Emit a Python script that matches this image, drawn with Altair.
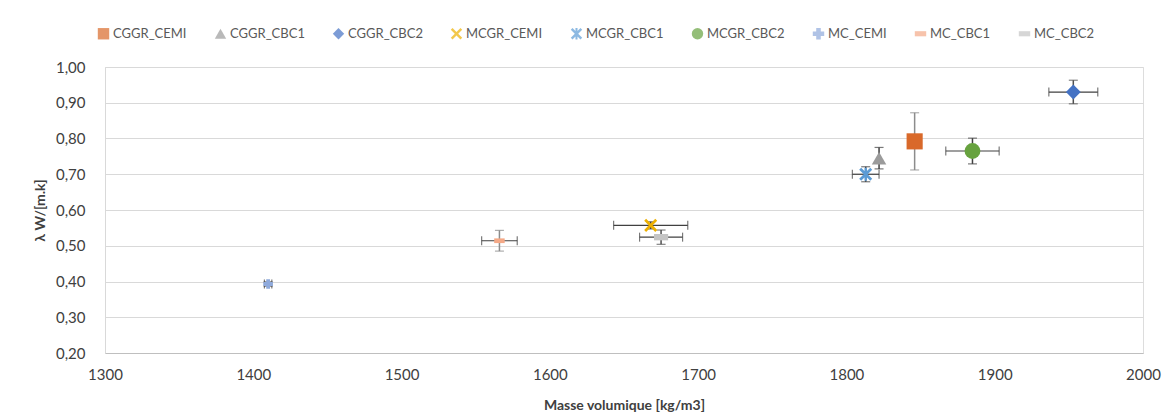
import altair as alt
import pandas as pd

series = ["CGGR_CEMI", "CGGR_CBC1", "CGGR_CBC2", "MCGR_CEMI", "MCGR_CBC1",
          "MCGR_CBC2", "MC_CEMI", "MC_CBC1", "MC_CBC2"]
density = [1846, 1822, 1953, 1668, 1813, 1885, 1410, 1566, 1675]
lam = [0.792, 0.745, 0.930, 0.557, 0.700, 0.765, 0.393, 0.514, 0.524]
density_err = [4.5, 0, 16.5, 25, 9, 18, 2.5, 12, 14.5]
lam_err = [0.080, 0.030, 0.033, 0.010, 0.021, 0.036, 0.006, 0.029, 0.020]
x_ticks = [1300, 1400, 1500, 1600, 1700, 1800, 1900, 2000]
y_ticks = [0.2, 0.3, 0.4, 0.5, 0.6, 0.7, 0.8, 0.9, 1.0]

colors = ["#D9692A", "#9B9B9B", "#4472C4", "#EDB000", "#5B9BD5",
          "#67A23F", "#8FAADC", "#F4A987", "#C4C4C4"]
X_PATH = ("M-1,-0.7L-0.7,-1L0,-0.3L0.7,-1L1,-0.7L0.3,0L1,0.7L0.7,1L0,0.3"
          "L-0.7,1L-1,0.7L-0.3,0Z")
STAR_PATH = X_PATH + " M-0.18,-1H0.18V1H-0.18Z"
DASH_PATH = "M-1,-0.45H1V0.45H-1Z"
shapes = ["square", "triangle-up", "diamond", X_PATH, STAR_PATH, "circle",
          "cross", DASH_PATH, DASH_PATH]
sizes = [260, 210, 220, 170, 170, 250, 90, 110, 200]
ybar_colors = ["#8C8C8C", "#404040", "#505050", "#404040", "#404040",
               "#404040", "#404040", "#8C8C8C", "#505050"]

df = pd.DataFrame({
    "series": series, "x": density, "y": lam,
    "xlo": [a - b for a, b in zip(density, density_err)],
    "xhi": [a + b for a, b in zip(density, density_err)],
    "ylo": [a - b for a, b in zip(lam, lam_err)],
    "yhi": [a + b for a, b in zip(lam, lam_err)],
    "size": sizes, "ecol": ybar_colors,
})
dfx = df[df["x"] != df["xlo"]]

FONT = "Lato"
xscale = alt.Scale(domain=[1300, 2000], nice=False, zero=False)
yscale = alt.Scale(domain=[0.2, 1.0], nice=False, zero=False)

xaxis = alt.Axis(title="Masse volumique [kg/m3]", values=x_ticks,
                 format="d", grid=False, ticks=False, domainColor="#BFBFBF",
                 labelFlush=False, labelOverlap=False,
                 labelFontSize=15, labelColor="#404040", labelPadding=14,
                 labelFont=FONT, titleFont=FONT, titleFontSize=14,
                 titleFontWeight="bold", titleColor="#404040", titlePadding=16)
yaxis = alt.Axis(title="λ W/[m.k]", values=y_ticks, tickCount=9,
                 labelExpr="replace(format(datum.value, '.2f'), '.', ',')",
                 labelFlush=False, labelOverlap=False,
                 grid=True, gridColor="#D9D9D9", ticks=False, domainColor="#D9D9D9",
                 labelFontSize=15, labelColor="#404040", labelPadding=20,
                 labelFont=FONT, titleFont=FONT, titleFontSize=14,
                 titleFontWeight="bold", titleColor="#404040", titlePadding=8)


def X(field):
    return alt.X(field, type="quantitative", scale=xscale, axis=xaxis)


def Y(field):
    return alt.Y(field, type="quantitative", scale=yscale, axis=yaxis)


base = alt.Chart(df)

xrule = alt.Chart(dfx).mark_rule(color="#404040", strokeWidth=1.2).encode(
    x=X("xlo"), x2="xhi:Q", y=Y("y"))
xcap_lo = alt.Chart(dfx).mark_tick(orient="vertical", color="#404040", size=9, thickness=1.2).encode(
    x=X("xlo"), y=Y("y"))
xcap_hi = alt.Chart(dfx).mark_tick(orient="vertical", color="#404040", size=9, thickness=1.2).encode(
    x=X("xhi"), y=Y("y"))

yrule = base.mark_rule(strokeWidth=1.5).encode(
    x=X("x"), y=Y("ylo"), y2="yhi:Q", color=alt.Color("ecol:N", scale=None))
ycap_lo = base.mark_tick(orient="horizontal", size=9, thickness=1.2).encode(
    x=X("x"), y=Y("ylo"), color=alt.Color("ecol:N", scale=None))
ycap_hi = base.mark_tick(orient="horizontal", size=9, thickness=1.2).encode(
    x=X("x"), y=Y("yhi"), color=alt.Color("ecol:N", scale=None))

legend = alt.Legend(title=None, orient="none", direction="horizontal",
                    legendX=-8, legendY=-40, columns=9, columnPadding=27,
                    labelFont=FONT, labelFontSize=13, labelColor="#595959",
                    symbolSize=130, symbolStrokeWidth=0, labelOffset=3)

points = base.mark_point(filled=True, opacity=1, strokeWidth=0).encode(
    x=X("x"), y=Y("y"),
    color=alt.Color("series:N", sort=series,
                    scale=alt.Scale(domain=series, range=colors), legend=legend),
    shape=alt.Shape("series:N", sort=series,
                    scale=alt.Scale(domain=series, range=shapes), legend=legend),
    size=alt.Size("size:Q", scale=None),
)

chart = alt.layer(xrule, xcap_lo, xcap_hi, yrule, ycap_lo, ycap_hi, points).properties(
    width=1038, height=286,
    autosize=alt.AutoSizeParams(type="none"),
    padding={"left": 97, "top": 59, "right": 25, "bottom": 60},
).configure_view(stroke=None).configure(background="white")

chart.save("out.html", embed_options={"renderer": "svg", "actions": False})
